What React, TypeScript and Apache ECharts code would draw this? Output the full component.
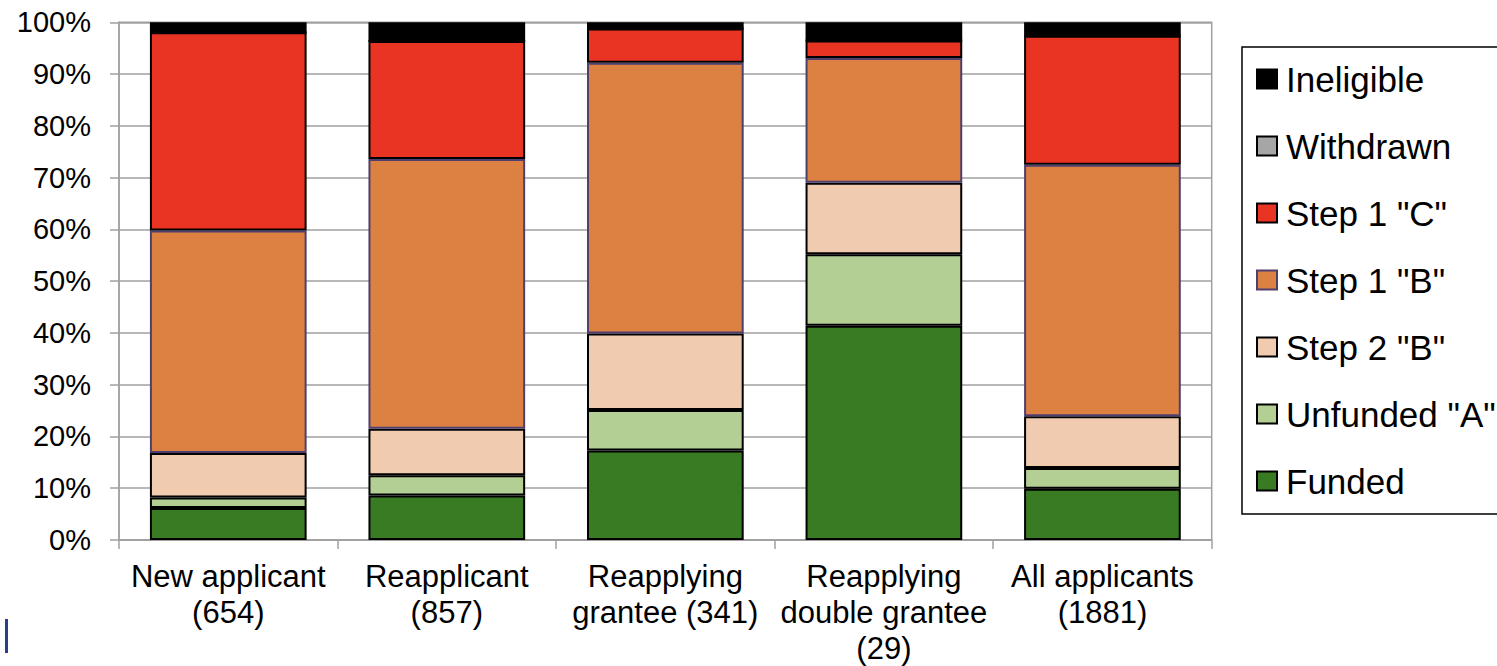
import React, { useEffect, useRef } from "react";
import * as echarts from "echarts";

const categories = [
  "New applicant\n(654)",
  "Reapplicant\n(857)",
  "Reapplying\ngrantee (341)",
  "Reapplying\ndouble grantee\n(29)",
  "All applicants\n(1881)",
];
const funded = [6.2, 8.6, 17.3, 41.4, 9.9];
const unfundedA = [2.0, 3.9, 7.8, 13.8, 4.0];
const step2B = [8.6, 9.0, 14.8, 13.8, 10.0];
const step1B = [43.0, 52.1, 52.3, 24.1, 48.6];
const step1C = [38.3, 22.8, 6.6, 3.4, 24.9];
const withdrawn = [0, 0, 0, 0, 0];
const ineligible = [1.9, 3.6, 1.2, 3.5, 2.6];
const legendOrder = ["Ineligible", "Withdrawn", 'Step 1 "C"', 'Step 1 "B"', 'Step 2 "B"', 'Unfunded "A"', "Funded"];

const FONT = "'Liberation Sans', Arial, Helvetica, sans-serif";

export default function App() {
  const ref = useRef<HTMLDivElement>(null);
  useEffect(() => {
    document.body.style.margin = "0";
    const chart = echarts.init(ref.current!, null, { renderer: "svg" });
    const mk = (name: string, data: number[], color: string, border = "#000") => ({
      name,
      type: "bar",
      stack: "total",
      data,
      barCategoryGap: "28.3%",
      itemStyle: { color, borderColor: border, borderWidth: 2 },
    });
    chart.setOption({
      animation: false,
      textStyle: { fontFamily: FONT },
      grid: {
        left: 119,
        top: 22.3,
        right: 285.3,
        bottom: 119.7,
        show: true,
        borderColor: "#a0a0a0",
        borderWidth: 1.5,
      },
      legend: {
        orient: "vertical",
        left: 1242,
        top: 47,
        padding: [14, 20, 15, 14],
        itemWidth: 20,
        itemHeight: 19,
        itemGap: 31,
        icon: "rect",
        borderColor: "#000",
        borderWidth: 1.5,
        data: legendOrder,
        textStyle: { fontSize: 35, color: "#000", lineHeight: 36, fontFamily: FONT, padding: [0, 0, 0, 4] },
      },
      xAxis: {
        type: "category",
        data: categories,
        axisLine: { lineStyle: { color: "#a0a0a0", width: 1.5 } },
        axisTick: { show: true, length: 9, lineStyle: { color: "#a0a0a0", width: 1.5 } },
        axisLabel: { fontSize: 31, color: "#000", lineHeight: 36, margin: 18, fontFamily: FONT, interval: 0 },
      },
      yAxis: {
        type: "value",
        min: 0,
        max: 100,
        interval: 10,
        axisLine: { show: true, lineStyle: { color: "#a0a0a0", width: 1.5 } },
        axisTick: { show: true, length: 9, lineStyle: { color: "#a0a0a0", width: 1.5 } },
        splitLine: { lineStyle: { color: "#a0a0a0", width: 1.5 } },
        axisLabel: { formatter: "{value}%", fontSize: 29, color: "#000", margin: 28, fontFamily: FONT },
      },
      series: [
        mk("Funded", funded, "#387b22"),
        mk('Unfunded "A"', unfundedA, "#b3cf94"),
        mk('Step 2 "B"', step2B, "#f1cbb0"),
        mk('Step 1 "B"', step1B, "#dd8143", "#4f3f6e"),
        mk('Step 1 "C"', step1C, "#e93323"),
        mk("Withdrawn", withdrawn, "#a6a6a6"),
        mk("Ineligible", ineligible, "#000000"),
      ],
      graphic: [
        { type: "rect", left: 5, top: 619, shape: { width: 3, height: 34 }, style: { fill: "#2a3f8a" } },
      ],
    });
    return () => chart.dispose();
  }, []);
  return <div ref={ref} style={{ width: 1497, height: 666 }} />;
}
